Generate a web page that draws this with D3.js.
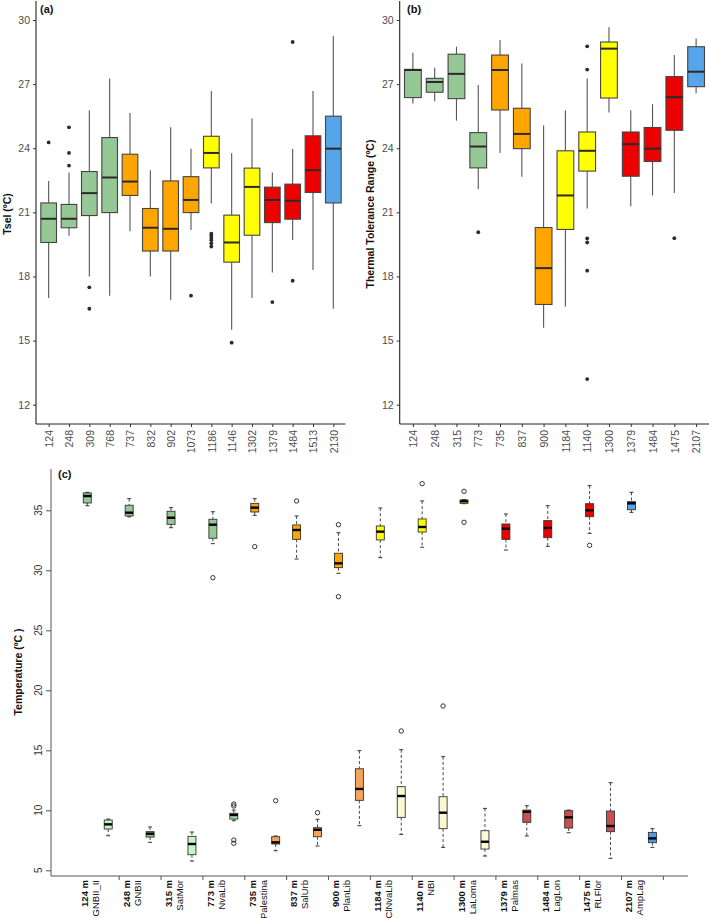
<!DOCTYPE html>
<html><head><meta charset="utf-8">
<script src="https://cdn.jsdelivr.net/npm/d3@7"></script>
<style>body{margin:0;background:#fff} svg{display:block} text{font-family:"Liberation Sans",Arial,Helvetica,sans-serif}</style>
</head><body><svg id="chart" width="709" height="918"></svg>
<script>
// ---------- Panel (a): Tsel ----------
const aSites = ["124","248","309","768","737","832","902","1073","1186","1146","1302","1379","1484","1513","2130"];
const aGroup = ["green","green","green","green","orange","orange","orange","orange","yellow","yellow","yellow","red","red","red","blue"];
const aLow  = [16.99,19.9,18.0,17.1,20.12,18.0,16.9,20.18,21.41,15.51,16.99,18.19,19.71,18.3,16.49];
const aQ1   = [19.59,20.28,20.85,20.99,21.79,19.19,19.19,20.99,23.08,18.67,19.93,20.52,20.68,21.93,21.44];
const aMed  = [20.70,20.70,21.90,22.63,22.44,20.28,20.23,21.58,23.78,19.59,22.19,21.58,21.54,22.97,23.98];
const aQ3   = [21.44,21.37,22.91,24.5,23.72,21.18,22.47,22.67,24.56,20.87,23.07,22.18,22.32,24.58,25.5];
const aHigh = [22.47,22.86,25.78,27.26,25.65,22.97,24.98,23.97,26.68,23.77,25.39,22.86,23.97,26.68,29.25];
const aOut  = [[24.27],[24.98,23.78,23.19],[17.49,16.49],[],[],[],[],[17.1],[20.0,19.9,19.8,19.7,19.55,19.4],[14.9],[],[16.8],[28.97,17.8],[],[]];

// ---------- Panel (b): Thermal tolerance range ----------
const bSites = ["124","248","315","773","735","837","900","1184","1140","1300","1379","1484","1475","2107"];
const bGroup = ["green","green","green","green","orange","orange","orange","yellow","yellow","yellow","red","red","red","blue"];
const bLow  = [26.09,26.2,25.29,22.09,23.78,22.67,15.6,16.6,21.18,25.67,21.29,21.79,21.9,26.57];
const bQ1   = [26.37,26.62,26.32,23.08,25.79,23.98,16.69,20.2,22.93,26.35,22.69,23.38,24.84,26.88];
const bMed  = [27.66,27.10,27.48,24.08,27.66,24.67,18.39,21.79,23.88,28.66,24.19,23.98,26.39,27.58];
const bQ3   = [27.69,27.27,28.4,24.73,28.36,25.87,20.29,23.88,24.76,28.97,24.76,24.97,27.35,28.75];
const bHigh = [28.47,27.76,28.75,26.96,29.07,27.97,25.06,25.78,27.26,29.66,25.78,26.06,28.36,29.13];
const bOut  = [[],[],[],[20.07],[],[],[],[],[28.77,27.68,19.78,19.59,18.27,13.2],[],[],[],[19.79],[]];

const abTicks = [12,15,18,21,24,27,30];

// ---------- Panel (c): field temperatures (max / min) ----------
const cElev  = ["124 m","248 m","315 m","773 m","735 m","837 m","900 m","1184 m","1140 m","1300 m","1379 m","1484 m","1475 m","2107 m"];
const cSite  = ["GNBII_II","GNBII","SatMor","NvaLib","Palestina","SalUrb","PlanLib","ClNvaLib","NBI","LaLoma","Palmas","LagLon","RLFlor","AmpLag"];
const cMaxGroup = ["green","green","green","green","orange","orange","orange","yellow","yellow","yellow","red","red","red","blue"];
const cMinGroup = ["pale","sage","pale","mid","sand","sand","sand","cream","cream","cream","rose","rose","rose","blue2"];
const cMaxLow  = [35.38,34.45,33.55,32.22,34.58,30.94,29.75,31.05,31.92,35.55,31.69,32.0,33.08,34.83];
const cMaxQ1   = [35.61,34.53,33.83,32.67,34.86,32.58,30.22,32.53,33.19,35.58,32.58,32.72,34.47,35.05];
const cMaxMed  = [36.19,34.8,34.38,33.8,35.22,33.36,30.58,33.22,33.61,35.75,33.47,33.53,35.0,35.58];
const cMaxQ3   = [36.45,35.42,34.92,34.25,35.58,33.78,31.42,33.69,34.28,35.86,33.86,34.14,35.55,35.72];
const cMaxHigh = [36.5,35.97,35.22,34.88,35.97,34.53,33.13,35.19,35.78,35.9,34.69,35.38,37.05,36.5];
const cMaxOut  = [[],[],[],[29.38],[31.97],[35.78],[33.8,27.8],[],[37.22],[36.58,34.0],[],[],[32.08],[]];
const cMinLow  = [7.88,7.33,5.77,9.13,6.63,7.02,8.72,7.99,6.91,6.19,7.86,8.13,6.0,6.91];
const cMinQ1   = [8.44,7.77,6.3,9.27,7.19,7.8,10.83,9.41,8.47,6.77,9.0,8.52,8.22,7.3];
const cMinMed  = [8.83,8.05,7.19,9.61,7.33,8.38,11.78,11.19,9.8,7.38,9.88,9.41,8.69,7.66];
const cMinQ3   = [9.19,8.22,7.83,9.75,7.8,8.55,13.46,11.97,11.13,8.3,10.02,9.97,9.94,8.16];
const cMinHigh = [9.27,8.61,8.19,10.02,7.86,9.25,14.97,15.05,14.47,10.16,10.38,10.02,12.3,8.47];
const cMinOut  = [[],[],[],[10.52,10.36,7.52,7.25],[10.8],[9.8],[],[16.61],[18.69],[],[],[],[],[]];
const cTicks = [5,10,15,20,25,30,35];

// ---------- colours ----------
const fill = d3.scaleOrdinal()
  .domain(["green","orange","yellow","red","blue","pale","sage","mid","sand","cream","rose","blue2"])
  .range(["#96c896","#ffa500","#ffff00","#ee0000","#56a5e8","#c8f5c8","#8fbf8f","#a5d6a5","#f4a55a","#fafad2","#c85050","#4a9ee8"]);

const svg = d3.select("#chart");

function ggPanel(opt){
  const g = svg.append("g");
  const x = d3.scalePoint().domain(opt.sites).range(opt.xr).padding(0.5);
  const y = d3.scaleLinear().domain([12,30]).range([404.7,20]);
  const bw = x.step()*0.77;
  g.append("line").attr("x1",opt.ax).attr("x2",opt.ax).attr("y1",1).attr("y2",424).attr("stroke","#222").attr("stroke-width",1.1);
  g.append("line").attr("x1",opt.ax).attr("x2",opt.xr[1]+2).attr("y1",424).attr("y2",424).attr("stroke","#222").attr("stroke-width",1.1);
  const ya = g.append("g").attr("transform",`translate(${opt.ax},0)`)
    .call(d3.axisLeft(y).tickValues(abTicks).tickSize(3).tickPadding(3));
  ya.select(".domain").remove();
  ya.selectAll("line").attr("stroke","#333");
  ya.selectAll("text").attr("fill","#4d4d4d").style("font-size","10.5px");
  const xa = g.append("g").attr("transform","translate(0,424)")
    .call(d3.axisBottom(x).tickSize(3));
  xa.select(".domain").remove();
  xa.selectAll("line").attr("stroke","#333");
  xa.selectAll("text").attr("fill","#4d4d4d").style("font-size","10.5px")
    .attr("transform","rotate(-90)").attr("x",-6).attr("y",0).attr("dy","0.35em").style("text-anchor","end");
  opt.sites.forEach((s,i)=>{
    const cx = x(s);
    g.append("line").attr("x1",cx).attr("x2",cx).attr("y1",y(opt.high[i])).attr("y2",y(opt.q3[i])).attr("stroke","#555").attr("stroke-width",1.1);
    g.append("line").attr("x1",cx).attr("x2",cx).attr("y1",y(opt.q1[i])).attr("y2",y(opt.low[i])).attr("stroke","#555").attr("stroke-width",1.1);
    g.append("rect").attr("x",cx-bw/2).attr("width",bw).attr("y",y(opt.q3[i])).attr("height",y(opt.q1[i])-y(opt.q3[i]))
      .attr("fill",fill(opt.group[i])).attr("stroke","#444").attr("stroke-width",1.1);
    g.append("line").attr("x1",cx-bw/2).attr("x2",cx+bw/2).attr("y1",y(opt.med[i])).attr("y2",y(opt.med[i])).attr("stroke","#2a2a2a").attr("stroke-width",2);
    opt.out[i].forEach(v=>{
      g.append("circle").attr("cx",cx).attr("cy",y(v)).attr("r",1.9).attr("fill","#2a2a2a");
    });
  });
  g.append("text").attr("x",opt.lx).attr("y",13).attr("font-weight","bold").style("font-size","11px").attr("fill","#111").text(opt.label);
  g.append("text").attr("transform",`translate(${opt.tx},214) rotate(-90)`).attr("text-anchor","middle")
    .attr("dy","0.35em").attr("font-weight","bold").style("font-size","10.5px").attr("fill","#111").text(opt.title);
}

ggPanel({sites:aSites,group:aGroup,low:aLow,q1:aQ1,med:aMed,q3:aQ3,high:aHigh,out:aOut,
  xr:[38.5,343.5],ax:36,label:"(a)",lx:40,tx:7,title:"Tsel (ºC)"});
ggPanel({sites:bSites,group:bGroup,low:bLow,q1:bQ1,med:bMed,q3:bQ3,high:bHigh,out:bOut,
  xr:[402,707],ax:399.7,label:"(b)",lx:407,tx:370,title:"Thermal Tolerance Range (ºC)"});

// ---------- Panel (c) ----------
(function(){
  const g = svg.append("g");
  const x = d3.scaleLinear().domain([1,28]).range([87.3,652.4]);
  const y = d3.scaleLinear().domain([5,35]).range([870.3,510.3]);
  const bw = 8, sw = 4;
  g.append("line").attr("x1",51).attr("x2",51).attr("y1",469).attr("y2",876).attr("stroke","#555").attr("stroke-width",1);
  g.append("line").attr("x1",51).attr("x2",688).attr("y1",876).attr("y2",876).attr("stroke","#555").attr("stroke-width",1);
  const ya = g.append("g").attr("transform","translate(51,0)")
    .call(d3.axisLeft(y).tickValues(cTicks).tickSize(5).tickFormat(""));
  ya.select(".domain").remove();
  ya.selectAll("line").attr("stroke","#555");
  g.selectAll(".cyl").data(cTicks).enter().append("text")
    .attr("transform",d=>`translate(38,${y(d)}) rotate(-90)`).attr("text-anchor","middle").attr("dy","0.35em")
    .style("font-size","10px").attr("fill","#333").text(d=>d);
  const xa = g.append("g").attr("transform","translate(0,876)")
    .call(d3.axisBottom(x).tickValues(d3.range(2.5,29,2)).tickSize(4).tickFormat(""));
  xa.select(".domain").remove();
  xa.selectAll("line").attr("stroke","#555");

  function rbox(pos, low, q1, med, q3, high, out, col){
    const cx = x(pos);
    const dash = "3,2.2";
    g.append("line").attr("x1",cx).attr("x2",cx).attr("y1",y(high)).attr("y2",y(q3)).attr("stroke","#333").attr("stroke-width",0.9).attr("stroke-dasharray",dash);
    g.append("line").attr("x1",cx).attr("x2",cx).attr("y1",y(q1)).attr("y2",y(low)).attr("stroke","#333").attr("stroke-width",0.9).attr("stroke-dasharray",dash);
    g.append("line").attr("x1",cx-sw/2).attr("x2",cx+sw/2).attr("y1",y(high)).attr("y2",y(high)).attr("stroke","#333").attr("stroke-width",1);
    g.append("line").attr("x1",cx-sw/2).attr("x2",cx+sw/2).attr("y1",y(low)).attr("y2",y(low)).attr("stroke","#333").attr("stroke-width",1);
    g.append("rect").attr("x",cx-bw/2).attr("width",bw).attr("y",y(q3)).attr("height",Math.max(1,y(q1)-y(q3)))
      .attr("fill",fill(col)).attr("stroke","#333").attr("stroke-width",0.9);
    g.append("line").attr("x1",cx-bw/2).attr("x2",cx+bw/2).attr("y1",y(med)).attr("y2",y(med)).attr("stroke","#000").attr("stroke-width",2.4);
    out.forEach(v=>{
      g.append("circle").attr("cx",cx).attr("cy",y(v)).attr("r",2.2).attr("fill","none").attr("stroke","#333").attr("stroke-width",1);
    });
  }
  cSite.forEach((s,i)=>{
    rbox(2*i+1, cMaxLow[i],cMaxQ1[i],cMaxMed[i],cMaxQ3[i],cMaxHigh[i],cMaxOut[i],cMaxGroup[i]);
    rbox(2*i+2, cMinLow[i],cMinQ1[i],cMinMed[i],cMinQ3[i],cMinHigh[i],cMinOut[i],cMinGroup[i]);
    const mid = x(2*i+1.5);
    g.append("text").attr("transform",`translate(${mid-13},880) rotate(-90)`).attr("text-anchor","end").attr("dy","0.35em")
      .attr("font-weight","bold").style("font-size","9.5px").attr("fill","#111").text(cElev[i]);
    g.append("text").attr("transform",`translate(${mid-2},880) rotate(-90)`).attr("text-anchor","end").attr("dy","0.35em")
      .style("font-size","9.5px").attr("fill","#111").text(s);
  });
  g.append("text").attr("x",58).attr("y",478).attr("font-weight","bold").style("font-size","11px").attr("fill","#111").text("(c)");
  g.append("text").attr("transform","translate(18,672) rotate(-90)").attr("text-anchor","middle").attr("dy","0.35em")
    .attr("font-weight","bold").style("font-size","10.5px").attr("fill","#111").text("Temperature (ºC )");
})();
</script></body></html>
